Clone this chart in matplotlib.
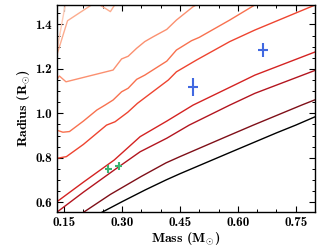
import matplotlib
matplotlib.use("Agg")
import matplotlib.pyplot as plt
from matplotlib.ticker import MultipleLocator, FormatStrFormatter

plt.rcParams['font.family'] = ['cmb10']
plt.rcParams['mathtext.fontset'] = 'custom'
plt.rcParams['mathtext.rm'] = 'cmb10'
plt.rcParams['mathtext.it'] = 'cmb10'
plt.rcParams['mathtext.bf'] = 'cmb10'
plt.rcParams['axes.unicode_minus'] = False

# Model curves (mass, radius), bottom to top
c1_x = [0.235, 0.2475, 0.30, 0.36, 0.414, 0.45, 0.58, 0.70, 0.75, 0.81]
c1_y = [0.542, 0.554, 0.602, 0.655, 0.700, 0.728, 0.824, 0.912, 0.947, 0.992]
c2_x = [0.19, 0.20, 0.27, 0.35, 0.414, 0.45, 0.57, 0.64, 0.765, 0.81]
c2_y = [0.543, 0.554, 0.635, 0.716, 0.777, 0.805, 0.895, 0.947, 1.037, 1.068]
c3_x = [0.125, 0.13, 0.20, 0.28, 0.347, 0.416, 0.474, 0.579, 0.644, 0.81]
c3_y = [0.547, 0.553, 0.645, 0.745, 0.827, 0.888, 0.947, 1.037, 1.09, 1.20]
c4_x = [0.13, 0.20, 0.28, 0.347, 0.416, 0.484, 0.579, 0.644, 0.81]
c4_y = [0.60, 0.69, 0.79, 0.895, 0.965, 1.037, 1.117, 1.172, 1.283]
c5_x = [0.13, 0.156, 0.20, 0.26, 0.282, 0.315, 0.34, 0.359, 0.42, 0.441, 0.493, 0.579, 0.644, 0.81]
c5_y = [0.797, 0.805, 0.86, 0.947, 0.962, 1.005, 1.045, 1.07, 1.15, 1.187, 1.24, 1.323, 1.375, 1.495]
c6_x = [0.13, 0.147, 0.164, 0.20, 0.235, 0.256, 0.277, 0.299, 0.316, 0.338, 0.359, 0.416, 0.441, 0.48, 0.50, 0.579, 0.644, 0.66]
c6_y = [0.925, 0.915, 0.918, 0.965, 1.015, 1.037, 1.06, 1.097, 1.113, 1.153, 1.172, 1.235, 1.285, 1.327, 1.342, 1.42, 1.488, 1.50]
c7_x = [0.13, 0.138, 0.155, 0.277, 0.299, 0.316, 0.338, 0.359, 0.381, 0.416, 0.441, 0.484, 0.50]
c7_y = [1.15, 1.168, 1.142, 1.195, 1.245, 1.257, 1.293, 1.323, 1.345, 1.378, 1.42, 1.48, 1.495]
c8_x = [0.13, 0.159, 0.221, 0.232, 0.27, 0.281, 0.29]
c8_y = [1.255, 1.417, 1.488, 1.50, 1.458, 1.488, 1.505]
c9_x = [0.128, 0.153, 0.156]
c9_y = [1.25, 1.488, 1.51]

curves_x = [c1_x, c2_x, c3_x, c4_x, c5_x, c6_x, c7_x, c8_x, c9_x]
curves_y = [c1_y, c2_y, c3_y, c4_y, c5_y, c6_y, c7_y, c8_y, c9_y]
colors = ['#000000', '#7f0f18', '#b3151f', '#d42322', '#ee4430', '#f8714f',
          '#fb9070', '#fcac8e', '#fdcbb6']

# Observed stars
blue_m = [0.483, 0.665]
blue_r = [1.117, 1.285]
blue_merr = [0.013, 0.014]
blue_rerr = [0.04, 0.03]
green_m = [0.265, 0.291]
green_r = [0.749, 0.763]
green_merr = [0.009, 0.009]
green_rerr = [0.018, 0.018]

fig = plt.figure(figsize=(3.32, 2.49), dpi=100)
ax = fig.add_axes([0.172, 0.147, 0.777, 0.834])

for xs, ys, c in zip(curves_x, curves_y, colors):
    ax.plot(xs, ys, color=c, lw=1.0)

ax.errorbar(blue_m, blue_r, xerr=blue_merr, yerr=blue_rerr, fmt='none',
            ecolor='#4169e1', elinewidth=1.5, capsize=0, zorder=5)
ax.errorbar(green_m, green_r, xerr=green_merr, yerr=green_rerr, fmt='none',
            ecolor='#3cb371', elinewidth=1.5, capsize=0, zorder=5)

ax.set_xlim(0.132, 0.80)
ax.set_ylim(0.554, 1.489)
ax.xaxis.set_major_locator(MultipleLocator(0.15))
ax.xaxis.set_minor_locator(MultipleLocator(0.05))
ax.yaxis.set_major_locator(MultipleLocator(0.2))
ax.yaxis.set_minor_locator(MultipleLocator(0.05))
ax.xaxis.set_major_formatter(FormatStrFormatter('%.2f'))
ax.yaxis.set_major_formatter(FormatStrFormatter('%.1f'))
ax.tick_params(which='both', direction='in', top=True, right=True, labelsize=9.5)
ax.tick_params(which='major', length=4, width=0.8)
ax.tick_params(which='minor', length=2.2, width=0.7)
for s in ax.spines.values():
    s.set_linewidth(1.0)

ax.set_xlabel(r'Mass (M$_{\odot}$)', fontsize=10, labelpad=1)
ax.set_ylabel(r'Radius (R$_{\odot}$)', fontsize=10, labelpad=2)

fig.savefig('out.png', dpi=100)
